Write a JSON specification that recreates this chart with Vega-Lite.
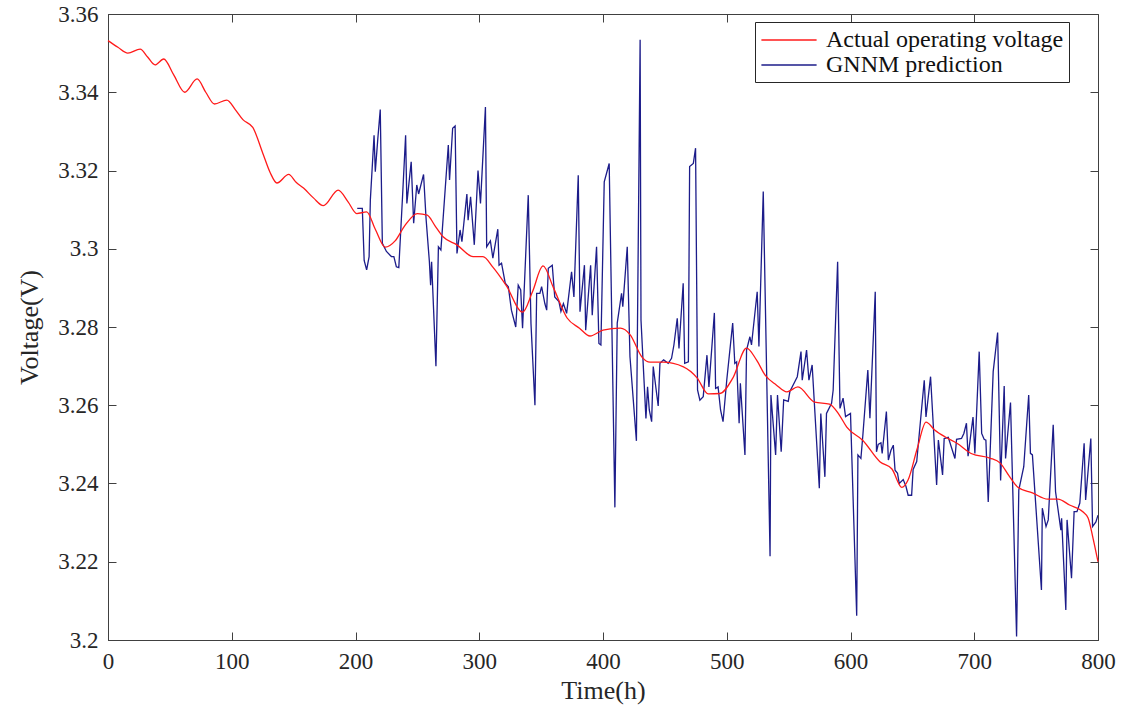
{
 "$schema": "https://vega.github.io/schema/vega-lite/v6.json",
 "width": 990,
 "height": 626,
 "autosize": {"type": "none"},
 "padding": {"left": 108, "top": 14, "right": 33, "bottom": 66},
 "background": "white",
 "config": {
  "view": {"stroke": "#404040", "strokeWidth": 1},
  "font": "Liberation Serif",
  "axis": {"grid": false, "domainColor": "#404040", "tickColor": "#404040", "labelColor": "#262626", "titleColor": "#262626", "labelFont": "Liberation Serif", "titleFont": "Liberation Serif", "labelFontSize": 23, "titleFontSize": 26, "titleFontWeight": "normal", "tickSize": -8, "labelPadding": 18, "labelFlush": false, "labelOverlap": false}
 },
 "data": {"values": [
  {"series":"Actual operating voltage","time":0,"voltage":3.3532},
  {"series":"Actual operating voltage","time":8,"voltage":3.3515},
  {"series":"Actual operating voltage","time":16,"voltage":3.35},
  {"series":"Actual operating voltage","time":26,"voltage":3.351},
  {"series":"Actual operating voltage","time":32,"voltage":3.349},
  {"series":"Actual operating voltage","time":38,"voltage":3.347},
  {"series":"Actual operating voltage","time":45,"voltage":3.3485},
  {"series":"Actual operating voltage","time":53,"voltage":3.3445},
  {"series":"Actual operating voltage","time":62,"voltage":3.34},
  {"series":"Actual operating voltage","time":72,"voltage":3.3434},
  {"series":"Actual operating voltage","time":79,"voltage":3.34},
  {"series":"Actual operating voltage","time":86,"voltage":3.337},
  {"series":"Actual operating voltage","time":96,"voltage":3.338},
  {"series":"Actual operating voltage","time":103,"voltage":3.3355},
  {"series":"Actual operating voltage","time":109,"voltage":3.333},
  {"series":"Actual operating voltage","time":117,"voltage":3.331},
  {"series":"Actual operating voltage","time":125,"voltage":3.3245},
  {"series":"Actual operating voltage","time":131,"voltage":3.3195},
  {"series":"Actual operating voltage","time":136.5,"voltage":3.3168},
  {"series":"Actual operating voltage","time":146,"voltage":3.319},
  {"series":"Actual operating voltage","time":152,"voltage":3.317},
  {"series":"Actual operating voltage","time":158,"voltage":3.3155},
  {"series":"Actual operating voltage","time":166,"voltage":3.313},
  {"series":"Actual operating voltage","time":174,"voltage":3.311},
  {"series":"Actual operating voltage","time":186,"voltage":3.315},
  {"series":"Actual operating voltage","time":194,"voltage":3.312},
  {"series":"Actual operating voltage","time":201,"voltage":3.309},
  {"series":"Actual operating voltage","time":209,"voltage":3.3094},
  {"series":"Actual operating voltage","time":216,"voltage":3.305},
  {"series":"Actual operating voltage","time":224,"voltage":3.3004},
  {"series":"Actual operating voltage","time":232,"voltage":3.302},
  {"series":"Actual operating voltage","time":240,"voltage":3.306},
  {"series":"Actual operating voltage","time":250,"voltage":3.309},
  {"series":"Actual operating voltage","time":258,"voltage":3.3086},
  {"series":"Actual operating voltage","time":264,"voltage":3.306},
  {"series":"Actual operating voltage","time":271,"voltage":3.303},
  {"series":"Actual operating voltage","time":282,"voltage":3.301},
  {"series":"Actual operating voltage","time":295,"voltage":3.298},
  {"series":"Actual operating voltage","time":303,"voltage":3.298},
  {"series":"Actual operating voltage","time":311,"voltage":3.2953},
  {"series":"Actual operating voltage","time":322,"voltage":3.2905},
  {"series":"Actual operating voltage","time":335,"voltage":3.2838},
  {"series":"Actual operating voltage","time":343,"voltage":3.289},
  {"series":"Actual operating voltage","time":351.5,"voltage":3.2956},
  {"series":"Actual operating voltage","time":360,"voltage":3.29},
  {"series":"Actual operating voltage","time":371,"voltage":3.2823},
  {"series":"Actual operating voltage","time":381,"voltage":3.2797},
  {"series":"Actual operating voltage","time":389.5,"voltage":3.2777},
  {"series":"Actual operating voltage","time":400,"voltage":3.2792},
  {"series":"Actual operating voltage","time":414,"voltage":3.2797},
  {"series":"Actual operating voltage","time":422,"voltage":3.278},
  {"series":"Actual operating voltage","time":431.5,"voltage":3.2723},
  {"series":"Actual operating voltage","time":438,"voltage":3.271},
  {"series":"Actual operating voltage","time":448.5,"voltage":3.271},
  {"series":"Actual operating voltage","time":465,"voltage":3.2698},
  {"series":"Actual operating voltage","time":476,"voltage":3.267},
  {"series":"Actual operating voltage","time":485,"voltage":3.2629},
  {"series":"Actual operating voltage","time":494.5,"voltage":3.263},
  {"series":"Actual operating voltage","time":505,"voltage":3.267},
  {"series":"Actual operating voltage","time":516,"voltage":3.2746},
  {"series":"Actual operating voltage","time":524,"voltage":3.2716},
  {"series":"Actual operating voltage","time":531,"voltage":3.2677},
  {"series":"Actual operating voltage","time":540,"voltage":3.2652},
  {"series":"Actual operating voltage","time":548.6,"voltage":3.2634},
  {"series":"Actual operating voltage","time":557.5,"voltage":3.2647},
  {"series":"Actual operating voltage","time":571,"voltage":3.2608},
  {"series":"Actual operating voltage","time":583,"voltage":3.2603},
  {"series":"Actual operating voltage","time":591,"voltage":3.2575},
  {"series":"Actual operating voltage","time":597,"voltage":3.2544},
  {"series":"Actual operating voltage","time":610,"voltage":3.251},
  {"series":"Actual operating voltage","time":624,"voltage":3.2455},
  {"series":"Actual operating voltage","time":633.5,"voltage":3.2437},
  {"series":"Actual operating voltage","time":641.5,"voltage":3.239},
  {"series":"Actual operating voltage","time":646.5,"voltage":3.2409},
  {"series":"Actual operating voltage","time":654,"voltage":3.249},
  {"series":"Actual operating voltage","time":661,"voltage":3.2557},
  {"series":"Actual operating voltage","time":668,"voltage":3.2537},
  {"series":"Actual operating voltage","time":676,"voltage":3.252},
  {"series":"Actual operating voltage","time":686,"voltage":3.2503},
  {"series":"Actual operating voltage","time":698,"voltage":3.2476},
  {"series":"Actual operating voltage","time":712.6,"voltage":3.2465},
  {"series":"Actual operating voltage","time":721,"voltage":3.2452},
  {"series":"Actual operating voltage","time":728,"voltage":3.242},
  {"series":"Actual operating voltage","time":735,"voltage":3.2391},
  {"series":"Actual operating voltage","time":747,"voltage":3.2376},
  {"series":"Actual operating voltage","time":759.5,"voltage":3.236},
  {"series":"Actual operating voltage","time":767.6,"voltage":3.236},
  {"series":"Actual operating voltage","time":777,"voltage":3.2345},
  {"series":"Actual operating voltage","time":788,"voltage":3.2327},
  {"series":"Actual operating voltage","time":792,"voltage":3.2312},
  {"series":"Actual operating voltage","time":796,"voltage":3.226},
  {"series":"Actual operating voltage","time":800,"voltage":3.22},
  {"series":"GNNM prediction","time":201.4,"voltage":3.3103},
  {"series":"GNNM prediction","time":205.5,"voltage":3.3103},
  {"series":"GNNM prediction","time":207,"voltage":3.297},
  {"series":"GNNM prediction","time":209,"voltage":3.2946},
  {"series":"GNNM prediction","time":211,"voltage":3.298},
  {"series":"GNNM prediction","time":212,"voltage":3.3125},
  {"series":"GNNM prediction","time":215,"voltage":3.329},
  {"series":"GNNM prediction","time":216,"voltage":3.3197},
  {"series":"GNNM prediction","time":218,"voltage":3.328},
  {"series":"GNNM prediction","time":220,"voltage":3.3356},
  {"series":"GNNM prediction","time":221.7,"voltage":3.3014},
  {"series":"GNNM prediction","time":225,"voltage":3.2993},
  {"series":"GNNM prediction","time":229,"voltage":3.298},
  {"series":"GNNM prediction","time":231,"voltage":3.298},
  {"series":"GNNM prediction","time":233,"voltage":3.2954},
  {"series":"GNNM prediction","time":235,"voltage":3.2952},
  {"series":"GNNM prediction","time":238,"voltage":3.3133},
  {"series":"GNNM prediction","time":240.5,"voltage":3.329},
  {"series":"GNNM prediction","time":241.5,"voltage":3.3116},
  {"series":"GNNM prediction","time":245,"voltage":3.3222},
  {"series":"GNNM prediction","time":247,"voltage":3.3065},
  {"series":"GNNM prediction","time":249.5,"voltage":3.3163},
  {"series":"GNNM prediction","time":251,"voltage":3.314},
  {"series":"GNNM prediction","time":255,"voltage":3.319},
  {"series":"GNNM prediction","time":257,"voltage":3.3078},
  {"series":"GNNM prediction","time":259.7,"voltage":3.2967},
  {"series":"GNNM prediction","time":260.7,"voltage":3.2907},
  {"series":"GNNM prediction","time":261.5,"voltage":3.2967},
  {"series":"GNNM prediction","time":265,"voltage":3.27},
  {"series":"GNNM prediction","time":267,"voltage":3.3005},
  {"series":"GNNM prediction","time":269,"voltage":3.2997},
  {"series":"GNNM prediction","time":275,"voltage":3.3265},
  {"series":"GNNM prediction","time":276,"voltage":3.3176},
  {"series":"GNNM prediction","time":278.5,"voltage":3.3308},
  {"series":"GNNM prediction","time":280.5,"voltage":3.3314},
  {"series":"GNNM prediction","time":282,"voltage":3.2988},
  {"series":"GNNM prediction","time":284.5,"voltage":3.3048},
  {"series":"GNNM prediction","time":286,"voltage":3.3018},
  {"series":"GNNM prediction","time":290,"voltage":3.314},
  {"series":"GNNM prediction","time":291,"voltage":3.3073},
  {"series":"GNNM prediction","time":293,"voltage":3.3133},
  {"series":"GNNM prediction","time":296,"voltage":3.301},
  {"series":"GNNM prediction","time":299,"voltage":3.32},
  {"series":"GNNM prediction","time":301,"voltage":3.3116},
  {"series":"GNNM prediction","time":305,"voltage":3.3362},
  {"series":"GNNM prediction","time":306,"voltage":3.3005},
  {"series":"GNNM prediction","time":309,"voltage":3.302},
  {"series":"GNNM prediction","time":311,"voltage":3.2976},
  {"series":"GNNM prediction","time":315,"voltage":3.305},
  {"series":"GNNM prediction","time":316,"voltage":3.2958},
  {"series":"GNNM prediction","time":318,"voltage":3.2963},
  {"series":"GNNM prediction","time":321,"voltage":3.2912},
  {"series":"GNNM prediction","time":323.5,"voltage":3.2903},
  {"series":"GNNM prediction","time":326,"voltage":3.2843},
  {"series":"GNNM prediction","time":329.5,"voltage":3.28},
  {"series":"GNNM prediction","time":331.5,"voltage":3.2907},
  {"series":"GNNM prediction","time":333.5,"voltage":3.2895},
  {"series":"GNNM prediction","time":335,"voltage":3.2797},
  {"series":"GNNM prediction","time":339.6,"voltage":3.3137},
  {"series":"GNNM prediction","time":341.8,"voltage":3.2809},
  {"series":"GNNM prediction","time":345,"voltage":3.26},
  {"series":"GNNM prediction","time":346.4,"voltage":3.2886},
  {"series":"GNNM prediction","time":349,"voltage":3.2886},
  {"series":"GNNM prediction","time":350.4,"voltage":3.2903},
  {"series":"GNNM prediction","time":353,"voltage":3.286},
  {"series":"GNNM prediction","time":354.5,"voltage":3.2843},
  {"series":"GNNM prediction","time":355.8,"voltage":3.295},
  {"series":"GNNM prediction","time":359,"voltage":3.2958},
  {"series":"GNNM prediction","time":361,"voltage":3.2877},
  {"series":"GNNM prediction","time":364.4,"voltage":3.2865},
  {"series":"GNNM prediction","time":366,"voltage":3.284},
  {"series":"GNNM prediction","time":368,"voltage":3.286},
  {"series":"GNNM prediction","time":370.6,"voltage":3.2835},
  {"series":"GNNM prediction","time":374.6,"voltage":3.2941},
  {"series":"GNNM prediction","time":376.5,"voltage":3.2877},
  {"series":"GNNM prediction","time":380,"voltage":3.3188},
  {"series":"GNNM prediction","time":381.4,"voltage":3.2839},
  {"series":"GNNM prediction","time":385,"voltage":3.2958},
  {"series":"GNNM prediction","time":386,"voltage":3.2792},
  {"series":"GNNM prediction","time":390,"voltage":3.2958},
  {"series":"GNNM prediction","time":391.3,"voltage":3.283},
  {"series":"GNNM prediction","time":394.8,"voltage":3.3005},
  {"series":"GNNM prediction","time":396.7,"voltage":3.2758},
  {"series":"GNNM prediction","time":398.3,"voltage":3.2754},
  {"series":"GNNM prediction","time":401,"voltage":3.3171},
  {"series":"GNNM prediction","time":405,"voltage":3.3218},
  {"series":"GNNM prediction","time":409.6,"voltage":3.2339},
  {"series":"GNNM prediction","time":411.5,"voltage":3.281},
  {"series":"GNNM prediction","time":415,"voltage":3.2886},
  {"series":"GNNM prediction","time":416,"voltage":3.2852},
  {"series":"GNNM prediction","time":419.6,"voltage":3.3005},
  {"series":"GNNM prediction","time":421.8,"voltage":3.2724},
  {"series":"GNNM prediction","time":427,"voltage":3.2509},
  {"series":"GNNM prediction","time":430,"voltage":3.3534},
  {"series":"GNNM prediction","time":430.7,"voltage":3.2818},
  {"series":"GNNM prediction","time":434.7,"voltage":3.2566},
  {"series":"GNNM prediction","time":436,"voltage":3.2647},
  {"series":"GNNM prediction","time":437.4,"voltage":3.2588},
  {"series":"GNNM prediction","time":439.3,"voltage":3.2558},
  {"series":"GNNM prediction","time":440.6,"voltage":3.2699},
  {"series":"GNNM prediction","time":444.6,"voltage":3.2598},
  {"series":"GNNM prediction","time":446,"voltage":3.2707},
  {"series":"GNNM prediction","time":449,"voltage":3.2716},
  {"series":"GNNM prediction","time":452.7,"voltage":3.2707},
  {"series":"GNNM prediction","time":455.4,"voltage":3.272},
  {"series":"GNNM prediction","time":457.3,"voltage":3.2754},
  {"series":"GNNM prediction","time":460,"voltage":3.2822},
  {"series":"GNNM prediction","time":461.4,"voltage":3.2745},
  {"series":"GNNM prediction","time":464.8,"voltage":3.2912},
  {"series":"GNNM prediction","time":466,"voltage":3.2707},
  {"series":"GNNM prediction","time":469,"voltage":3.2711},
  {"series":"GNNM prediction","time":470,"voltage":3.321},
  {"series":"GNNM prediction","time":473,"voltage":3.3218},
  {"series":"GNNM prediction","time":474.8,"voltage":3.3257},
  {"series":"GNNM prediction","time":476.4,"voltage":3.2639},
  {"series":"GNNM prediction","time":478.3,"voltage":3.2613},
  {"series":"GNNM prediction","time":481,"voltage":3.2622},
  {"series":"GNNM prediction","time":484,"voltage":3.2728},
  {"series":"GNNM prediction","time":485.6,"voltage":3.2647},
  {"series":"GNNM prediction","time":490,"voltage":3.2836},
  {"series":"GNNM prediction","time":491,"voltage":3.2643},
  {"series":"GNNM prediction","time":493,"voltage":3.2647},
  {"series":"GNNM prediction","time":495,"voltage":3.2588},
  {"series":"GNNM prediction","time":497,"voltage":3.2558},
  {"series":"GNNM prediction","time":500,"voltage":3.2664},
  {"series":"GNNM prediction","time":504.8,"voltage":3.281},
  {"series":"GNNM prediction","time":506.5,"voltage":3.2707},
  {"series":"GNNM prediction","time":508,"voltage":3.2711},
  {"series":"GNNM prediction","time":510,"voltage":3.2554},
  {"series":"GNNM prediction","time":511,"voltage":3.2656},
  {"series":"GNNM prediction","time":514.7,"voltage":3.2473},
  {"series":"GNNM prediction","time":516,"voltage":3.2741},
  {"series":"GNNM prediction","time":518.7,"voltage":3.2775},
  {"series":"GNNM prediction","time":520,"voltage":3.2754},
  {"series":"GNNM prediction","time":524.6,"voltage":3.289},
  {"series":"GNNM prediction","time":526,"voltage":3.275},
  {"series":"GNNM prediction","time":529.5,"voltage":3.3146},
  {"series":"GNNM prediction","time":535,"voltage":3.2214},
  {"series":"GNNM prediction","time":535.7,"voltage":3.2626},
  {"series":"GNNM prediction","time":539.5,"voltage":3.2473},
  {"series":"GNNM prediction","time":541,"voltage":3.2626},
  {"series":"GNNM prediction","time":544,"voltage":3.2481},
  {"series":"GNNM prediction","time":546,"voltage":3.2614},
  {"series":"GNNM prediction","time":549.7,"voltage":3.261},
  {"series":"GNNM prediction","time":551,"voltage":3.2635},
  {"series":"GNNM prediction","time":555,"voltage":3.266},
  {"series":"GNNM prediction","time":557,"voltage":3.2673},
  {"series":"GNNM prediction","time":560,"voltage":3.2737},
  {"series":"GNNM prediction","time":561,"voltage":3.2664},
  {"series":"GNNM prediction","time":564.5,"voltage":3.2741},
  {"series":"GNNM prediction","time":566.4,"voltage":3.2664},
  {"series":"GNNM prediction","time":569,"voltage":3.2703},
  {"series":"GNNM prediction","time":574.8,"voltage":3.2388},
  {"series":"GNNM prediction","time":576,"voltage":3.2579},
  {"series":"GNNM prediction","time":579.3,"voltage":3.2417},
  {"series":"GNNM prediction","time":580.6,"voltage":3.2579},
  {"series":"GNNM prediction","time":584.7,"voltage":3.2605},
  {"series":"GNNM prediction","time":586,"voltage":3.2639},
  {"series":"GNNM prediction","time":589.6,"voltage":3.2967},
  {"series":"GNNM prediction","time":591.5,"voltage":3.2592},
  {"series":"GNNM prediction","time":594,"voltage":3.2618},
  {"series":"GNNM prediction","time":596,"voltage":3.2571},
  {"series":"GNNM prediction","time":600,"voltage":3.2579},
  {"series":"GNNM prediction","time":605,"voltage":3.2062},
  {"series":"GNNM prediction","time":606,"voltage":3.2473},
  {"series":"GNNM prediction","time":608.4,"voltage":3.2464},
  {"series":"GNNM prediction","time":610,"voltage":3.2524},
  {"series":"GNNM prediction","time":614,"voltage":3.269},
  {"series":"GNNM prediction","time":615.7,"voltage":3.2567},
  {"series":"GNNM prediction","time":620,"voltage":3.289},
  {"series":"GNNM prediction","time":621,"voltage":3.2481},
  {"series":"GNNM prediction","time":622.4,"voltage":3.25},
  {"series":"GNNM prediction","time":624.6,"voltage":3.2504},
  {"series":"GNNM prediction","time":625.6,"voltage":3.2477},
  {"series":"GNNM prediction","time":629,"voltage":3.2584},
  {"series":"GNNM prediction","time":630.6,"voltage":3.246},
  {"series":"GNNM prediction","time":632.7,"voltage":3.2485},
  {"series":"GNNM prediction","time":634.6,"voltage":3.2498},
  {"series":"GNNM prediction","time":636,"voltage":3.2434},
  {"series":"GNNM prediction","time":638,"voltage":3.2426},
  {"series":"GNNM prediction","time":639.4,"voltage":3.24},
  {"series":"GNNM prediction","time":642.6,"voltage":3.241},
  {"series":"GNNM prediction","time":644.8,"voltage":3.2393},
  {"series":"GNNM prediction","time":646.6,"voltage":3.237},
  {"series":"GNNM prediction","time":649.4,"voltage":3.237},
  {"series":"GNNM prediction","time":650.6,"voltage":3.2436},
  {"series":"GNNM prediction","time":653.5,"voltage":3.2456},
  {"series":"GNNM prediction","time":659.6,"voltage":3.2664},
  {"series":"GNNM prediction","time":661,"voltage":3.257},
  {"series":"GNNM prediction","time":664.7,"voltage":3.2673},
  {"series":"GNNM prediction","time":669.6,"voltage":3.2396},
  {"series":"GNNM prediction","time":671,"voltage":3.2511},
  {"series":"GNNM prediction","time":674.4,"voltage":3.2422},
  {"series":"GNNM prediction","time":675.7,"voltage":3.2515},
  {"series":"GNNM prediction","time":679,"voltage":3.2518},
  {"series":"GNNM prediction","time":684.4,"voltage":3.2464},
  {"series":"GNNM prediction","time":685.7,"voltage":3.2513},
  {"series":"GNNM prediction","time":689.7,"voltage":3.2515},
  {"series":"GNNM prediction","time":691.6,"voltage":3.2528},
  {"series":"GNNM prediction","time":693.7,"voltage":3.2554},
  {"series":"GNNM prediction","time":695,"voltage":3.247},
  {"series":"GNNM prediction","time":699,"voltage":3.257},
  {"series":"GNNM prediction","time":700.5,"voltage":3.2477},
  {"series":"GNNM prediction","time":704,"voltage":3.2737},
  {"series":"GNNM prediction","time":706,"voltage":3.2528},
  {"series":"GNNM prediction","time":708,"voltage":3.2513},
  {"series":"GNNM prediction","time":709.4,"voltage":3.2511},
  {"series":"GNNM prediction","time":711.3,"voltage":3.2353},
  {"series":"GNNM prediction","time":715.3,"voltage":3.2686},
  {"series":"GNNM prediction","time":718.9,"voltage":3.2786},
  {"series":"GNNM prediction","time":721.3,"voltage":3.2408},
  {"series":"GNNM prediction","time":724.2,"voltage":3.2649},
  {"series":"GNNM prediction","time":725.3,"voltage":3.2464},
  {"series":"GNNM prediction","time":729.3,"voltage":3.2607},
  {"series":"GNNM prediction","time":734.2,"voltage":3.2009},
  {"series":"GNNM prediction","time":736,"voltage":3.2383},
  {"series":"GNNM prediction","time":740,"voltage":3.2443},
  {"series":"GNNM prediction","time":744,"voltage":3.2626},
  {"series":"GNNM prediction","time":745.4,"voltage":3.2477},
  {"series":"GNNM prediction","time":747,"voltage":3.2473},
  {"series":"GNNM prediction","time":754.3,"voltage":3.2128},
  {"series":"GNNM prediction","time":755,"voltage":3.2337},
  {"series":"GNNM prediction","time":758,"voltage":3.229},
  {"series":"GNNM prediction","time":759.8,"voltage":3.2307},
  {"series":"GNNM prediction","time":763.8,"voltage":3.255},
  {"series":"GNNM prediction","time":765.7,"voltage":3.2379},
  {"series":"GNNM prediction","time":770,"voltage":3.2281},
  {"series":"GNNM prediction","time":770.6,"voltage":3.2311},
  {"series":"GNNM prediction","time":774,"voltage":3.2077},
  {"series":"GNNM prediction","time":775,"voltage":3.2307},
  {"series":"GNNM prediction","time":778.6,"voltage":3.2158},
  {"series":"GNNM prediction","time":780.7,"voltage":3.2328},
  {"series":"GNNM prediction","time":783,"voltage":3.2328},
  {"series":"GNNM prediction","time":785.3,"voltage":3.235},
  {"series":"GNNM prediction","time":788.8,"voltage":3.2503},
  {"series":"GNNM prediction","time":790,"voltage":3.2358},
  {"series":"GNNM prediction","time":794.2,"voltage":3.2515},
  {"series":"GNNM prediction","time":795.6,"voltage":3.229},
  {"series":"GNNM prediction","time":798.3,"voltage":3.2302},
  {"series":"GNNM prediction","time":800,"voltage":3.2319}
 ]},
 "layer": [
  {
   "transform": [{"filter": "datum.series === 'GNNM prediction'"}],
   "mark": {"type": "line", "strokeWidth": 1.3, "interpolate": "linear", "clip": true},
   "encoding": {
    "x": {"field": "time", "type": "quantitative", "scale": {"domain": [0, 800], "nice": false, "zero": false},
          "axis": {"orient": "bottom", "values": [0,100,200,300,400,500,600,700,800], "format": "d", "title": "Time(h)", "titlePadding": 4}},
    "y": {"field": "voltage", "type": "quantitative", "scale": {"domain": [3.2, 3.36], "nice": false, "zero": false},
          "axis": {"orient": "left", "values": [3.2,3.22,3.24,3.26,3.28,3.3,3.32,3.34,3.36], "format": ".2~f", "title": "Voltage(V)", "titlePadding": 15}},
    "color": {"field": "series", "type": "nominal",
              "scale": {"domain": ["Actual operating voltage", "GNNM prediction"], "range": ["#ff1a1a", "#1c1c8a"]},
              "legend": {"orient": "none", "legendX": 647, "legendY": 8, "title": null, "strokeColor": "#262626", "fillColor": "white", "padding": 5, "symbolType": "M-2.3,0H2.3", "symbolSize": 576, "symbolOffset": 16, "symbolStrokeWidth": 1.5, "labelFontSize": 24, "labelFont": "Liberation Serif", "labelColor": "#111111", "rowPadding": 0, "labelOffset": 24, "labelLimit": 400, "cornerRadius": 0}}
   }
  },
  {
   "transform": [{"filter": "datum.series === 'Actual operating voltage'"}],
   "mark": {"type": "line", "strokeWidth": 1.3, "interpolate": "monotone"},
   "encoding": {
    "x": {"field": "time", "type": "quantitative", "axis": null},
    "y": {"field": "voltage", "type": "quantitative", "axis": null},
    "color": {"field": "series", "type": "nominal"}
   }
  },
  {
   "transform": [{"filter": "datum.series === 'Actual operating voltage'"}],
   "mark": {"type": "line", "strokeOpacity": 0, "stroke": "white"},
   "encoding": {
    "x": {"field": "time", "type": "quantitative", "axis": {"orient": "top", "values": [0,100,200,300,400,500,600,700,800], "labels": false, "title": null, "domain": false}},
    "y": {"field": "voltage", "type": "quantitative", "axis": {"orient": "right", "values": [3.2,3.22,3.24,3.26,3.28,3.3,3.32,3.34,3.36], "labels": false, "title": null, "domain": false}}
   }
  }
 ],
 "resolve": {"axis": {"x": "independent", "y": "independent"}}
}
